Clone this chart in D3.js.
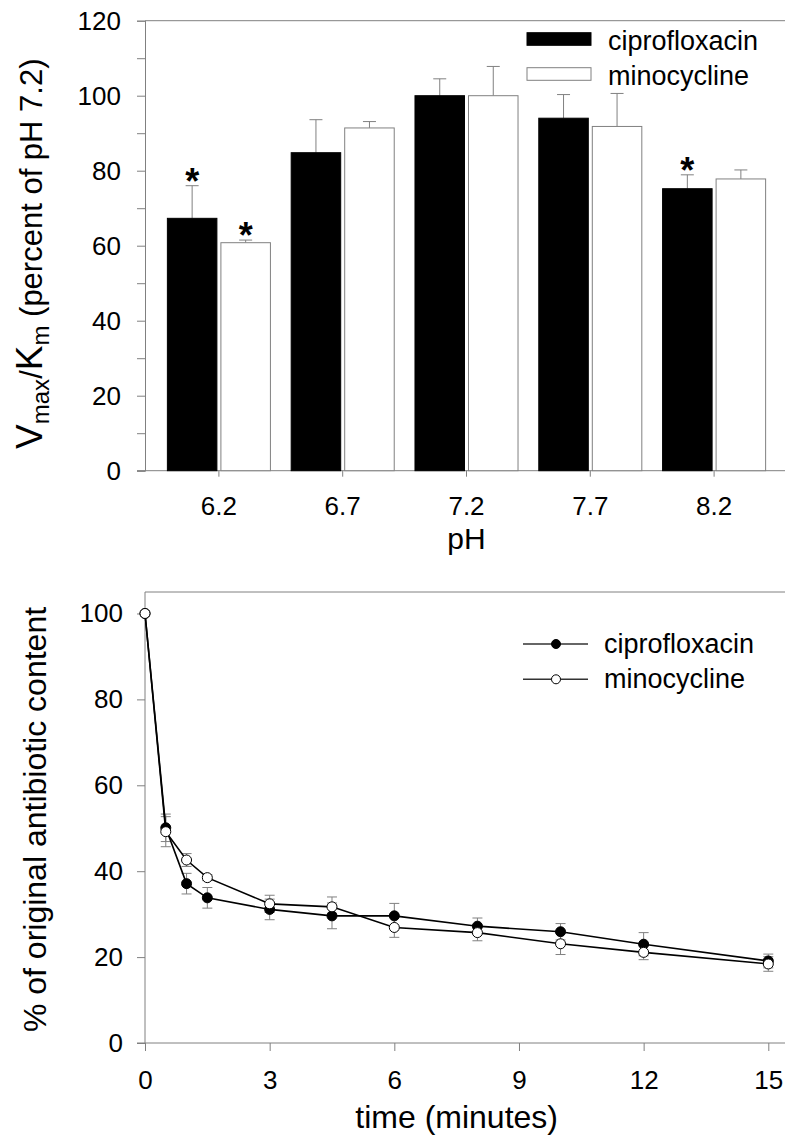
<!DOCTYPE html>
<html>
<head>
<meta charset="utf-8">
<script src="https://cdn.jsdelivr.net/npm/d3@7"></script>
<style>
  body { margin: 0; background: #fff; }
  svg { display: block; font-family: "Liberation Sans", Arial, sans-serif; }
</style>
</head>
<body>
<div class="chart"></div>
<script>
// top panel: Vmax/Km by pH
let phLabels = ['6.2', '6.7', '7.2', '7.7', '8.2'];
let ciproVmax = [67.3, 84.8, 100, 94.0, 75.2];
let ciproVmaxErr = [8.7, 8.8, 4.5, 6.3, 3.7];
let minoVmax = [60.8, 91.4, 100, 91.8, 77.8];
let minoVmaxErr = [0.7, 1.7, 7.8, 8.8, 2.4];
let ciproStar = [true, false, false, false, true];
let minoStar = [true, false, false, false, false];

// bottom panel: % of original content over time
let times = [0, 0.5, 1, 1.5, 3, 4.5, 6, 8, 10, 12, 15];
let ciproPct = [100, 50.1, 37.1, 33.8, 31.1, 29.6, 29.6, 27.2, 25.9, 23.0, 19.1];
let ciproErr = [0, 3.2, 2.4, 2.4, 2.4, 3.0, 2.9, 1.9, 1.9, 2.7, 1.6];
let minoPct = [100, 49.2, 42.6, 38.5, 32.4, 31.7, 26.9, 25.7, 23.1, 21.1, 18.4];
let minoErr = [0, 3.5, 1.5, 0.7, 2.0, 2.3, 2.3, 1.9, 2.5, 1.7, 1.7];

let W = 785, H = 1136;
let grey = '#808080';

let svg = d3.select('.chart')
  .append('svg')
    .attr('width', W)
    .attr('height', H);

// ---------- top panel ----------
let tm = { left: 145, top: 20.7, bottom: 470.7 };

let yTop = d3.scaleLinear()
  .domain([0, 120])
  .range([tm.bottom, tm.top]);

let xTop = d3.scaleBand()
  .domain(phLabels)
  .range([157, 776]);

let g1 = svg.append('g');

// frame lines (left axis drawn by d3 below)
g1.append('line')
  .attr('x1', tm.left).attr('x2', W)
  .attr('y1', tm.top).attr('y2', tm.top)
  .attr('stroke', grey);
g1.append('line')
  .attr('x1', tm.left - 8).attr('x2', W)
  .attr('y1', tm.bottom).attr('y2', tm.bottom)
  .attr('stroke', grey);

let barW = xTop.bandwidth() * 0.4;
let cx = d => xTop(d) + xTop.bandwidth() / 2;

let topRows = phLabels.map((p, i) => ({
  p: p,
  cip: ciproVmax[i], cipErr: ciproVmaxErr[i], cipStar: ciproStar[i],
  min: minoVmax[i], minErr: minoVmaxErr[i], minStar: minoStar[i]
}));

// error bars (upward only)
function errUp(sel, xf, vf, ef) {
  sel.append('line')
    .attr('x1', xf).attr('x2', xf)
    .attr('y1', d => yTop(vf(d))).attr('y2', d => yTop(vf(d) + ef(d)))
    .attr('stroke', grey);
  sel.append('line')
    .attr('x1', d => xf(d) - 6.5).attr('x2', d => xf(d) + 6.5)
    .attr('y1', d => yTop(vf(d) + ef(d))).attr('y2', d => yTop(vf(d) + ef(d)))
    .attr('stroke', grey);
}

let grp = g1.selectAll('.grp')
  .data(topRows)
  .enter().append('g')
    .attr('class', 'grp');

errUp(grp, d => cx(d.p) - 2 - barW / 2, d => d.cip, d => d.cipErr);
errUp(grp, d => cx(d.p) + 2 + barW / 2, d => d.min, d => d.minErr);

grp.append('rect')
  .attr('x', d => cx(d.p) - 2 - barW)
  .attr('y', d => yTop(d.cip))
  .attr('width', barW)
  .attr('height', d => yTop(0) - yTop(d.cip))
  .attr('fill', '#000')
  .attr('stroke', '#000');

grp.append('rect')
  .attr('x', d => cx(d.p) + 2)
  .attr('y', d => yTop(d.min))
  .attr('width', barW)
  .attr('height', d => yTop(0) - yTop(d.min))
  .attr('fill', '#fff')
  .attr('stroke', grey);

// significance stars
grp.filter(d => d.cipStar).append('text')
  .attr('x', d => cx(d.p) - 2 - barW / 2)
  .attr('y', d => yTop(d.cip + d.cipErr) + 8)
  .attr('text-anchor', 'middle')
  .style('font-size', '36px').style('font-weight', 'bold')
  .text('*');
grp.filter(d => d.minStar).append('text')
  .attr('x', d => cx(d.p) + 2 + barW / 2)
  .attr('y', d => yTop(d.min + d.minErr) + 8)
  .attr('text-anchor', 'middle')
  .style('font-size', '36px').style('font-weight', 'bold')
  .text('*');

// y axis
let yAxisTop = d3.axisLeft(yTop)
  .tickValues(d3.range(0, 121, 20))
  .tickSizeInner(8)
  .tickSizeOuter(0)
  .tickPadding(16);
let yMinorTop = d3.axisLeft(yTop)
  .tickValues(d3.range(10, 120, 20))
  .tickSize(8)
  .tickFormat('');

g1.append('g').attr('transform', `translate(${tm.left},0)`).call(yMinorTop);
g1.append('g').attr('transform', `translate(${tm.left},0)`).call(yAxisTop);

// x axis
let xAxisTop = d3.axisBottom(xTop)
  .tickSizeInner(6)
  .tickSizeOuter(0)
  .tickPadding(20);
g1.append('g').attr('class', 'xa').attr('transform', `translate(0,${tm.bottom})`).call(xAxisTop);
g1.select('.xa .domain').remove();

g1.selectAll('.tick line, .domain').attr('stroke', grey);
g1.selectAll('.tick text').style('font-size', '26px').attr('fill', '#000');

g1.append('text')
  .attr('x', cx('7.2'))
  .attr('y', 549)
  .attr('text-anchor', 'middle')
  .style('font-size', '30px')
  .text('pH');

let yt = g1.append('text')
  .attr('transform', `translate(42,${(tm.top + tm.bottom) / 2 + 8}) rotate(-90)`)
  .attr('text-anchor', 'middle')
  .style('font-size', '31px');
yt.append('tspan').style('font-size', '37px').text('V');
yt.append('tspan').style('font-size', '24px').attr('dy', 7).text('max');
yt.append('tspan').attr('dy', -7).text('/');
yt.append('tspan').style('font-size', '37px').text('K');
yt.append('tspan').style('font-size', '24px').attr('dy', 7).text('m');
yt.append('tspan').attr('dy', -7).text(' (percent of pH 7.2)');

// legend
let legTop = [
  { name: 'ciprofloxacin', fill: '#000', stroke: '#000' },
  { name: 'minocycline', fill: '#fff', stroke: grey }
];
let lg1 = g1.selectAll('.lg')
  .data(legTop)
  .enter().append('g')
    .attr('transform', (d, i) => `translate(527,${32.7 + i * 35})`);
lg1.append('rect')
  .attr('width', 64).attr('height', 12.6)
  .attr('fill', d => d.fill).attr('stroke', d => d.stroke);
lg1.append('text')
  .attr('x', 81).attr('y', 17)
  .style('font-size', '27px')
  .text(d => d.name);

// ---------- bottom panel ----------
let bm = { left: 145, top: 592, bottom: 1043 };

let xBot = d3.scaleLinear()
  .domain([0, 15])
  .range([bm.left, 768.3]);
let yBot = d3.scaleLinear()
  .domain([0, 105])
  .range([bm.bottom, bm.top]);

let g2 = svg.append('g');

g2.append('line')
  .attr('x1', bm.left).attr('x2', W)
  .attr('y1', bm.top).attr('y2', bm.top)
  .attr('stroke', grey);
g2.append('line')
  .attr('x1', bm.left - 8).attr('x2', W)
  .attr('y1', bm.bottom).attr('y2', bm.bottom)
  .attr('stroke', grey);

let yAxisBot = d3.axisLeft(yBot)
  .tickValues(d3.range(0, 101, 20))
  .tickSizeInner(8)
  .tickSizeOuter(0)
  .tickPadding(14);
g2.append('g').attr('class', 'ya').attr('transform', `translate(${bm.left},0)`).call(yAxisBot);
g2.select('.ya .domain').attr('d', `M0,${bm.bottom}V${bm.top}`);

let xAxisBot = d3.axisBottom(xBot)
  .tickValues(d3.range(0, 16, 3))
  .tickSizeInner(8)
  .tickSizeOuter(0)
  .tickPadding(20);
g2.append('g').attr('class', 'xb').attr('transform', `translate(0,${bm.bottom})`).call(xAxisBot);
g2.select('.xb .domain').remove();

g2.selectAll('.tick line, .domain').attr('stroke', grey);
g2.selectAll('.tick text').style('font-size', '26px').attr('fill', '#000');

g2.append('text')
  .attr('x', xBot(7.5))
  .attr('y', 1128)
  .attr('text-anchor', 'middle')
  .style('font-size', '32px')
  .text('time (minutes)');

g2.append('text')
  .attr('transform', `translate(46,${(bm.top + bm.bottom) / 2 + 2}) rotate(-90)`)
  .attr('text-anchor', 'middle')
  .style('font-size', '32px')
  .text('% of original antibiotic content');

let series = [
  { name: 'ciprofloxacin', fill: '#000', vals: ciproPct, errs: ciproErr },
  { name: 'minocycline', fill: '#fff', vals: minoPct, errs: minoErr }
];

// error bars
series.forEach(s => {
  let eg = g2.append('g');
  let pts = times.map((t, i) => ({ t: t, v: s.vals[i], e: s.errs[i] })).filter(d => d.e > 0);
  eg.selectAll('.eb').data(pts).enter().append('line')
    .attr('x1', d => xBot(d.t)).attr('x2', d => xBot(d.t))
    .attr('y1', d => yBot(d.v - d.e)).attr('y2', d => yBot(d.v + d.e))
    .attr('stroke', grey);
  [-1, 1].forEach(sg => {
    eg.selectAll('.cap' + sg).data(pts).enter().append('line')
      .attr('x1', d => xBot(d.t) - 5).attr('x2', d => xBot(d.t) + 5)
      .attr('y1', d => yBot(d.v + sg * d.e)).attr('y2', d => yBot(d.v + sg * d.e))
      .attr('stroke', grey);
  });
});

let line = d3.line()
  .x((d, i) => xBot(times[i]))
  .y(d => yBot(d));

series.forEach(s => {
  g2.append('path')
    .datum(s.vals)
    .attr('d', line)
    .attr('fill', 'none')
    .attr('stroke', '#000')
    .attr('stroke-width', 1.6);
});

series.forEach(s => {
  g2.append('g').selectAll('circle')
    .data(s.vals)
    .enter().append('circle')
      .attr('cx', (d, i) => xBot(times[i]))
      .attr('cy', d => yBot(d))
      .attr('r', 5)
      .attr('fill', s.fill)
      .attr('stroke', '#000');
});

// legend
let lg2 = g2.selectAll('.lg2')
  .data(series)
  .enter().append('g')
    .attr('transform', (d, i) => `translate(523,${644 + i * 35.3})`);
lg2.append('line')
  .attr('x1', 0).attr('x2', 65)
  .attr('stroke', '#333').attr('stroke-width', 1.5);
lg2.append('circle')
  .attr('cx', 33).attr('r', 4.5)
  .attr('fill', d => d.fill).attr('stroke', '#000');
lg2.append('text')
  .attr('x', 81).attr('y', 9)
  .style('font-size', '27px')
  .text(d => d.name);
</script>
</body>
</html>
